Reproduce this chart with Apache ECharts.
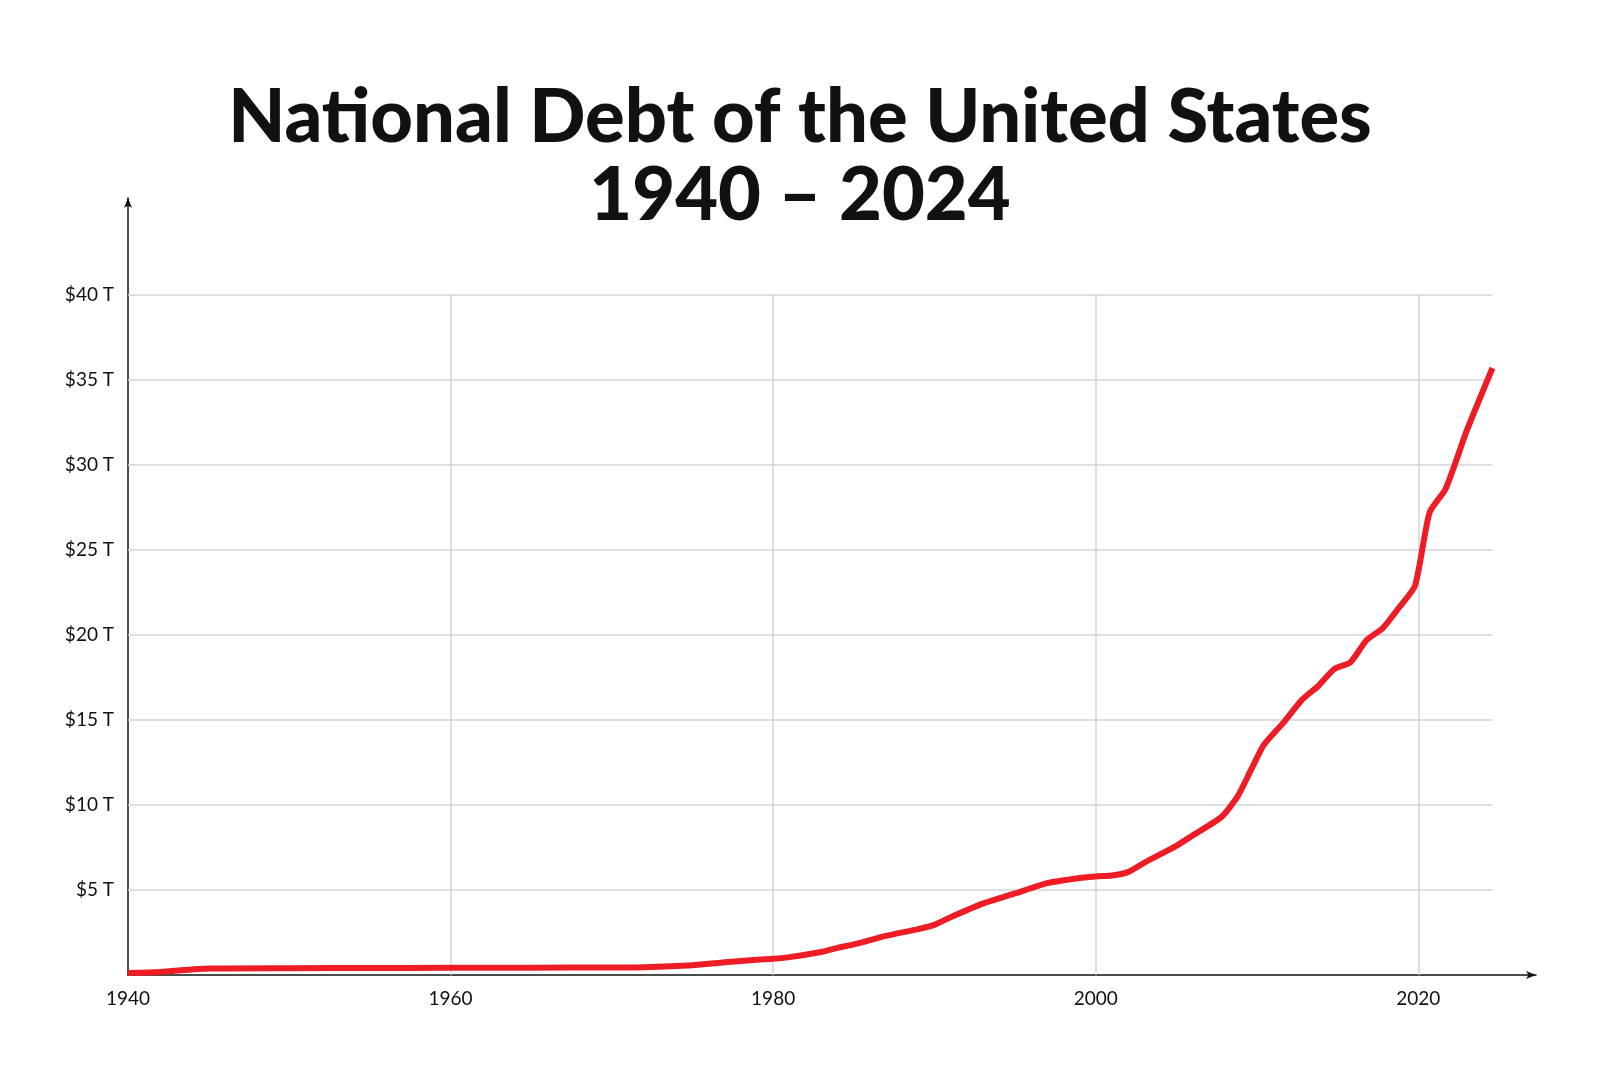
<!DOCTYPE html>
<html><head><meta charset="utf-8">
<script src="https://cdn.jsdelivr.net/npm/echarts@6/dist/echarts.min.js"></script>
<style>html,body{margin:0;background:#fff}#c{width:1600px;height:1067px}</style>
</head><body><div id="c"></div>
<script>
const years = [1940,1942,1945,1950,1955,1960,1965,1970,1972,1975,1977,1979,1980,1981,1983,1984,1985,1987,1989,1990,1991,1993,1995,1997,1999,2000,2001,2002,2003,2005,2006,2007.8,2008.8,2009.6,2010.4,2011.6,2012.8,2013.8,2014.8,2015.8,2016.8,2017.8,2018.8,2019.8,2020.7,2021.7,2023,2024.6];
const debt  = [0.12,0.18,0.38,0.4,0.41,0.42,0.43,0.44,0.46,0.58,0.75,0.9,0.95,1.05,1.35,1.6,1.8,2.3,2.7,2.95,3.4,4.2,4.8,5.4,5.7,5.8,5.85,6.05,6.6,7.6,8.2,9.3,10.5,12.0,13.5,14.8,16.2,17.0,18.0,18.4,19.7,20.4,21.6,22.9,27.2,28.6,32.0,35.7];
const xTicks = [1960,1980,2000,2020];
const yTicks = [5,10,15,20,25,30,35,40];
const X_END = 2024.6, Y_TOP = 40;

const gridCol = '#cfd6de';
const hLines = yTicks.map(v => [{coord:[1940,v]},{coord:[X_END,v]}]);
const vLines = xTicks.map(v => [{coord:[v,0]},{coord:[v,Y_TOP]}]);

const chart = echarts.init(document.getElementById('c'));
chart.setOption({
  animation:false,
  title:{text:'National Debt of the United States\n1940 – 2024',left:'center',top:74,
    textStyle:{fontFamily:'Lato',fontWeight:900,fontSize:74,lineHeight:78,color:'#111'}},
  grid:{left:128,right:64,top:198,bottom:92},
  xAxis:{type:'value',min:1940,max:2027.3,interval:20,
    axisLine:{lineStyle:{color:'#111',width:1.5},symbol:['none','arrow'],symbolSize:[6,10]},
    axisTick:{show:false},splitLine:{show:false},
    axisLabel:{color:'#111',fontFamily:'Lato',fontSize:19,margin:14,
      formatter:v=>v>2020?'':String(v)}},
  yAxis:{type:'value',min:0,max:45.7,interval:5,
    axisLine:{show:true,lineStyle:{color:'#111',width:1.5},symbol:['none','arrow'],symbolSize:[6,10]},
    axisTick:{show:false},splitLine:{show:false},
    axisLabel:{color:'#111',fontFamily:'Lato',fontSize:19,margin:14,
      formatter:v=>(v===0||v>40)?'':'$'+v+' T'}},
  series:[{type:'line',data:years.map((y,i)=>[y,debt[i]]),showSymbol:false,smooth:0.2,
    lineStyle:{color:'#ee1c25',width:6},z:5,
    markLine:{silent:true,symbol:'none',label:{show:false},
      lineStyle:{color:gridCol,width:1.5,type:'solid'},data:hLines.concat(vLines)}}]
});
</script></body></html>
